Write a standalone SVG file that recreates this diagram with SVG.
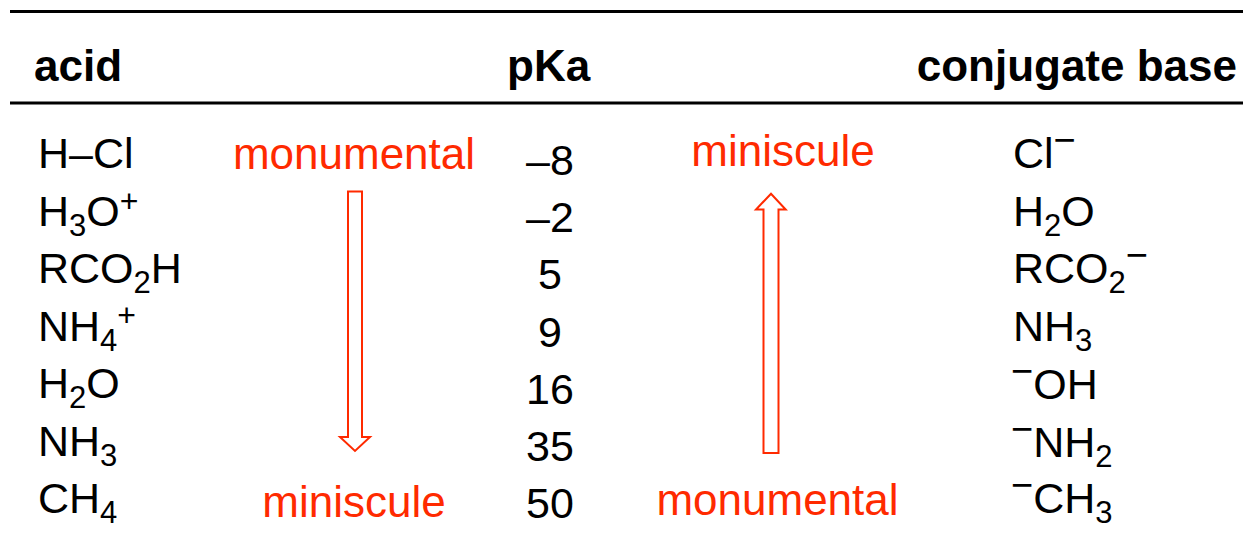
<svg xmlns="http://www.w3.org/2000/svg" width="1243" height="535" viewBox="0 0 1243 535">
<style>
text{font-family:"Liberation Sans",Arial,Helvetica,sans-serif;}
.hd{font-size:44px;font-weight:bold;fill:#000;}
.f{font-size:43px;fill:#000;}
.r{font-size:44px;fill:#ff2a00;}
.n{font-size:43px;fill:#000;text-anchor:middle;}
.sub{font-size:31px;}
.sup{font-size:32px;}
.neg{font-size:38px;}
.rule{stroke:#000;stroke-width:3;fill:none;}
.arr{fill:#fff;stroke:#ff2a00;stroke-width:2;stroke-linejoin:miter;}
</style>
<rect width="1243" height="535" fill="#fff"/>
<g id="rules">
<line class="rule" x1="10" y1="11.5" x2="1243" y2="11.5"/>
<line class="rule" x1="10" y1="103" x2="1243" y2="103"/>
</g>
<g id="headers">
<text class="hd" x="34" y="81">acid</text>
<text class="hd" x="507" y="81">pKa</text>
<text class="hd" x="1237" y="81" text-anchor="end">conjugate base</text>
</g>
<g id="acids">
<text class="f" x="38" y="168">H–Cl</text>
<text class="f" x="38" y="225.5">H<tspan class="sub" dy="10">3</tspan><tspan dy="-10">O</tspan><tspan class="sup" dy="-14">+</tspan></text>
<text class="f" x="38" y="283">RCO<tspan class="sub" dy="10">2</tspan><tspan dy="-10">H</tspan></text>
<text class="f" x="38" y="340.5">NH<tspan class="sub" dy="10">4</tspan><tspan class="sup" dy="-25">+</tspan></text>
<text class="f" x="38" y="398">H<tspan class="sub" dy="10">2</tspan><tspan dy="-10">O</tspan></text>
<text class="f" x="38" y="455.5">NH<tspan class="sub" dy="10">3</tspan></text>
<text class="f" x="38" y="513">CH<tspan class="sub" dy="10">4</tspan></text>
</g>
<g id="pka">
<text class="n" x="550" y="175">–8</text>
<text class="n" x="550" y="232">–2</text>
<text class="n" x="550" y="289">5</text>
<text class="n" x="550" y="346.5">9</text>
<text class="n" x="550" y="404">16</text>
<text class="n" x="550" y="461">35</text>
<text class="n" x="550" y="518">50</text>
</g>
<g id="bases">
<text class="f" x="1013" y="167.5">Cl<tspan class="neg" dy="-15">−</tspan></text>
<text class="f" x="1013" y="225.5">H<tspan class="sub" dy="10">2</tspan><tspan dy="-10">O</tspan></text>
<text class="f" x="1013" y="283">RCO<tspan class="sub" dy="10">2</tspan><tspan class="neg" dy="-25">−</tspan></text>
<text class="f" x="1013" y="340.5">NH<tspan class="sub" dy="10">3</tspan></text>
<text class="f" x="1011" y="399"><tspan class="neg" dy="-15">−</tspan><tspan dy="15">OH</tspan></text>
<text class="f" x="1011" y="456.5"><tspan class="neg" dy="-15">−</tspan><tspan dy="15">NH</tspan><tspan class="sub" dy="10">2</tspan></text>
<text class="f" x="1011" y="513"><tspan class="neg" dy="-15">−</tspan><tspan dy="15">CH</tspan><tspan class="sub" dy="10">3</tspan></text>
</g>
<g id="label-acid-top"><text class="r" x="354" y="169" text-anchor="middle">monumental</text></g>
<g id="label-acid-bottom"><text class="r" x="354" y="516.5" text-anchor="middle">miniscule</text></g>
<g id="label-base-top"><text class="r" x="783" y="166" text-anchor="middle">miniscule</text></g>
<g id="label-base-bottom"><text class="r" x="777.5" y="515" text-anchor="middle">monumental</text></g>
<g id="connectors">
<path class="arr" d="M348,191.5 H362 V437 H370 L355,451 L340,437 H348 Z"/>
<path class="arr" d="M763.5,453 H778.5 V209.5 H785.7 L771,193.7 L756,209.5 H763.5 Z"/>
</g>
</svg>
